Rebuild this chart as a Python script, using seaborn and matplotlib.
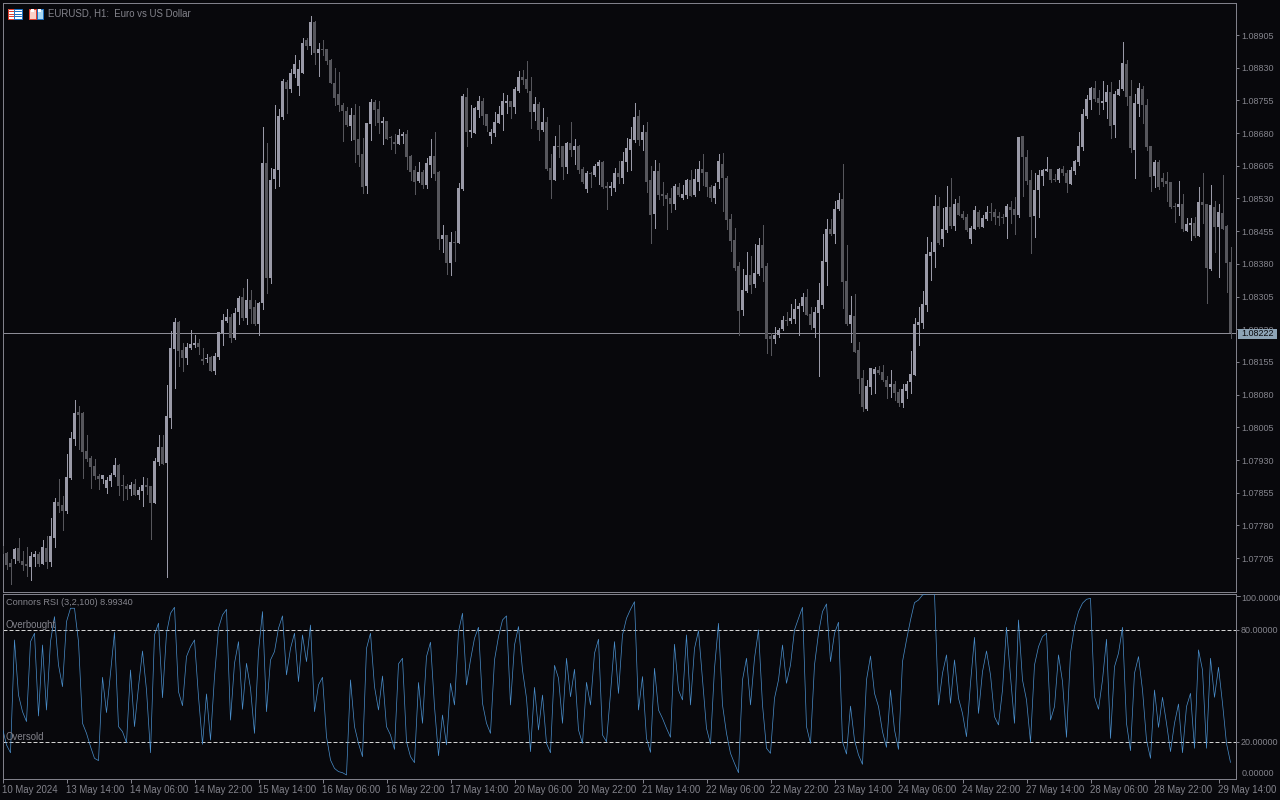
import numpy as np
import pandas as pd
import matplotlib
matplotlib.use("Agg")
import matplotlib.pyplot as plt
from matplotlib.patches import Rectangle
import seaborn as sns

# prices are kept as points above 1.07000
base_price = 1.07
rising = ("DDDLDDDLLD" "LDLLDDLLLD" "DDDDDLLLLD" "DDLDLLDDLL" "DLLLDDLLLD" "DLDLLLLDLL" "DLDDLLDLLL" "LDLLLLDLDL"
          "DDDDDDDLDD" "DLLDDLDDDL" "LDDDLDLLDD" "LDLDLLDLLL" "DDLLLLLDLL" "DDDLDLDDLD" "DLDLDDLDLL" "DDLLDLLLLD"
          "LDDLDDDDLD" "LLDLLDDDLL" "DDDDDLLDLL" "DDDLLLDLLL" "LDDLLLLDLL" "DDLDDDLLLD" "DDLDDLLLLL" "LLLLDLLDLD"
          "DDLLDLLDDD" "DLDDLDDDLL" "LLDDLDDLLL" "LLLDDLLDLL" "LDDLLDDDLD" "DDDDLDLLDL" "DDLDLDDD")

body_hi = [733,717,694,727,728,698,691,710,714,714,
730,728,756,834,834,827,891,980,1038,1040,
1038,951,935,916,893,896,884,896,918,918,
873,870,873,875,861,873,873,870,928,960,
960,1031,1187,1247,1247,1182,1189,1196,1198,1198,
1162,1164,1167,1169,1224,1251,1258,1258,1267,1301,
1304,1297,1297,1281,1290,1611,1611,1572,1597,1719,
1799,1797,1818,1838,1827,1886,1893,1935,1935,1873,
1873,1873,1847,1795,1769,1744,1730,1721,1721,1666,
1632,1703,1751,1751,1735,1707,1707,1671,1659,1675,
1678,1678,1627,1595,1590,1590,1611,1627,1627,1590,
1446,1446,1430,1430,1554,1765,1763,1687,1738,1754,
1754,1724,1683,1706,1724,1754,1754,1754,1782,1809,
1809,1804,1777,1747,1747,1706,1706,1600,1651,1651,
1651,1658,1658,1651,1651,1598,1589,1589,1605,1614,
1614,1559,1559,1589,1589,1616,1646,1667,1717,1720,
1683,1683,1573,1593,1593,1541,1538,1531,1559,1557,
1541,1573,1573,1575,1598,1598,1591,1557,1559,1616,
1609,1577,1483,1435,1375,1320,1354,1354,1359,1423,
1423,1375,1214,1217,1228,1251,1251,1256,1276,1283,
1304,1304,1265,1269,1297,1386,1460,1460,1506,1526,
1529,1340,1262,1260,1182,1118,1100,1141,1139,1136,
1132,1113,1104,1104,1086,1093,1104,1127,1242,1246,
1288,1402,1407,1513,1513,1460,1510,1510,1517,1519,
1494,1487,1462,1503,1499,1485,1499,1499,1499,1490,
1487,1513,1510,1506,1671,1673,1625,1572,1549,1584,
1595,1598,1598,1575,1598,1598,1588,1595,1616,1650,
1724,1758,1783,1783,1761,1754,1774,1774,1770,1781,
1841,1838,1765,1749,1783,1781,1744,1650,1614,1614,
1577,1570,1568,1513,1517,1517,1471,1474,1474,1522,
1522,1517,1515,1510,1499,1497,1467,1384]

body_lo = [714,689,684,702,699,689,687,685,707,691,
691,696,696,751,824,813,813,889,978,1033,
948,932,914,893,886,886,866,882,896,870,
870,863,863,850,850,859,868,831,831,925,
921,923,1026,1185,1180,1164,1164,1187,1194,1189,
1157,1162,1134,1134,1166,1221,1249,1210,1210,1269,
1255,1255,1276,1242,1242,1290,1347,1347,1574,1595,
1717,1781,1781,1815,1788,1818,1879,1879,1863,1863,
1870,1845,1795,1760,1744,1730,1698,1696,1664,1629,
1556,1558,1700,1733,1703,1703,1666,1668,1655,1655,
1673,1625,1590,1567,1570,1561,1561,1606,1586,1437,
1437,1382,1382,1428,1428,1551,1683,1683,1681,1733,
1720,1697,1674,1681,1704,1722,1749,1740,1740,1776,
1802,1782,1729,1729,1687,1687,1598,1573,1573,1648,
1603,1603,1642,1642,1596,1568,1552,1587,1584,1605,
1557,1554,1554,1554,1580,1577,1614,1642,1664,1664,
1664,1568,1492,1495,1538,1536,1529,1518,1518,1538,
1531,1538,1536,1538,1568,1589,1557,1531,1531,1568,
1577,1481,1433,1370,1272,1274,1318,1331,1334,1357,
1370,1207,1207,1207,1217,1230,1249,1249,1253,1276,
1283,1262,1240,1233,1267,1285,1384,1448,1448,1506,
1338,1242,1242,1178,1116,1051,1046,1097,1127,1129,
1113,1097,1097,1084,1061,1061,1088,1109,1125,1240,
1244,1285,1398,1407,1428,1437,1457,1467,1467,1492,
1485,1457,1437,1460,1464,1464,1483,1497,1487,1485,
1485,1487,1504,1492,1492,1625,1570,1487,1490,1549,
1581,1593,1572,1572,1572,1588,1565,1563,1593,1614,
1648,1719,1756,1758,1749,1749,1751,1696,1699,1767,
1781,1763,1646,1641,1747,1744,1648,1579,1581,1556,
1568,1563,1510,1510,1510,1460,1455,1469,1444,1444,
1515,1370,1368,1464,1464,1460,1382,1221]

wick_hi = [733,720,702,729,751,721,730,720,721,719,
746,756,797,843,886,847,944,994,1068,1054,
1040,987,939,932,898,896,892,900,935,921,
896,875,879,886,868,891,889,870,935,987,
987,1102,1226,1256,1249,1198,1198,1228,1217,1208,
1187,1173,1169,1175,1224,1265,1276,1265,1279,1306,
1324,1345,1320,1297,1292,1694,1657,1600,1744,1735,
1804,1801,1827,1859,1847,1898,1898,1948,1937,1886,
1893,1873,1850,1829,1820,1749,1740,1737,1746,1742,
1668,1703,1758,1756,1753,1717,1707,1673,1678,1689,
1682,1687,1629,1604,1613,1595,1622,1666,1682,1593,
1469,1446,1453,1455,1565,1769,1784,1745,1740,1765,
1761,1724,1690,1729,1742,1772,1768,1754,1786,1823,
1825,1846,1809,1763,1752,1738,1717,1632,1674,1699,
1651,1660,1706,1667,1653,1603,1593,1591,1609,1619,
1616,1568,1568,1600,1616,1637,1669,1694,1749,1733,
1699,1706,1605,1619,1612,1568,1543,1554,1564,1566,
1561,1575,1596,1598,1616,1632,1591,1561,1566,1632,
1635,1582,1495,1462,1384,1368,1407,1398,1425,1439,
1469,1382,1221,1235,1233,1260,1269,1288,1299,1290,
1313,1322,1281,1281,1336,1448,1483,1483,1524,1542,
1609,1423,1306,1311,1201,1136,1113,1141,1143,1145,
1148,1122,1136,1111,1093,1104,1111,1180,1256,1281,
1318,1441,1430,1538,1533,1508,1558,1577,1529,1535,
1501,1494,1467,1513,1503,1492,1513,1520,1506,1499,
1494,1517,1524,1533,1671,1673,1641,1595,1588,1595,
1598,1625,1598,1586,1600,1604,1595,1602,1618,1682,
1735,1767,1786,1799,1779,1799,1790,1797,1777,1802,
1889,1848,1802,1770,1795,1788,1758,1650,1618,1618,
1588,1591,1568,1520,1570,1540,1485,1485,1487,1556,
1588,1517,1561,1524,1517,1584,1469,1419]

wick_lo = [714,681,645,693,696,678,664,655,687,687,
691,682,687,730,811,769,808,886,964,955,
889,928,866,886,863,877,854,870,893,850,
838,840,850,850,840,824,852,749,831,918,
921,662,1003,1095,1146,1134,1150,1185,1189,1173,
1150,1155,1134,1127,1162,1194,1247,1201,1208,1242,
1251,1242,1244,1239,1216,1276,1313,1336,1554,1558,
1712,1726,1774,1808,1767,1818,1873,1861,1838,1811,
1859,1838,1795,1744,1730,1662,1696,1664,1613,1604,
1542,1542,1664,1698,1680,1655,1666,1643,1634,1655,
1657,1597,1572,1540,1567,1554,1554,1579,1572,1414,
1407,1356,1354,1386,1428,1549,1651,1671,1681,1717,
1701,1685,1658,1674,1704,1687,1726,1715,1726,1775,
1793,1775,1692,1710,1665,1685,1596,1531,1573,1626,
1575,1589,1628,1609,1589,1566,1545,1557,1582,1564,
1554,1506,1538,1548,1566,1566,1593,1596,1660,1653,
1642,1545,1428,1463,1529,1515,1460,1499,1506,1536,
1529,1531,1536,1536,1550,1561,1536,1525,1520,1554,
1502,1460,1410,1366,1217,1262,1315,1313,1327,1354,
1340,1175,1171,1198,1212,1228,1240,1244,1244,1217,
1272,1262,1230,1212,1122,1279,1331,1446,1428,1503,
1279,1240,1201,1178,1084,1042,1045,1081,1084,1127,
1111,1072,1074,1067,1054,1051,1072,1084,1125,1194,
1233,1272,1343,1373,1425,1421,1453,1462,1457,1492,
1483,1455,1428,1460,1462,1464,1481,1481,1471,1469,
1474,1439,1474,1448,1487,1536,1563,1405,1442,1487,
1561,1593,1568,1570,1568,1584,1545,1563,1586,1607,
1641,1715,1735,1754,1724,1735,1715,1669,1671,1767,
1779,1744,1637,1577,1719,1703,1641,1547,1556,1552,
1559,1524,1508,1476,1492,1455,1455,1435,1442,1444,
1474,1290,1366,1407,1350,1460,1315,1210]

rsi = [27.3,18.4,14.2,74.6,45.1,36.2,30.9,73.7,78.2,33.9,
71.9,37.1,73.7,87.1,61.2,49.6,84.4,91.6,91.6,73.7,
30.0,24.6,17.5,11.2,10.0,54.6,35.7,56.8,78.7,28.2,
25.5,19.6,58.5,28.2,49.6,68.7,47.8,14.2,77.3,83.6,
43.7,78.2,88.9,92.1,46.9,39.4,65.7,71.0,74.6,44.2,
18.7,45.7,21.0,55.0,80.9,88.0,91.0,31.7,62.1,73.7,
37.5,62.1,48.7,24.6,68.4,89.8,36.2,63.9,68.4,80.9,
87.5,55.9,70.1,78.2,52.3,77.3,63.0,82.6,36.2,50.5,
54.6,22.8,10.3,5.8,4.1,3.5,2.3,53.2,28.2,19.2,
12.1,70.1,78.2,49.6,37.1,55.3,28.2,23.7,16.0,61.8,
64.8,20.1,12.1,8.9,51.8,30.0,65.7,73.4,38.9,12.6,
34.4,18.4,51.4,39.8,79.1,88.9,50.5,63.9,75.5,81.4,
40.7,30.0,24.6,63.9,76.4,85.3,87.5,39.8,71.9,81.8,
58.5,43.4,14.8,49.2,26.4,45.1,19.2,14.2,61.0,54.1,
30.0,64.8,44.2,58.9,26.4,19.2,51.9,39.8,67.5,75.0,
23.7,20.1,46.0,73.7,46.0,77.3,86.2,91.0,95.1,37.1,
55.0,21.9,14.4,59.4,37.1,32.6,27.3,22.5,72.3,47.8,
42.5,77.3,39.8,70.1,79.6,53.2,27.3,18.9,59.4,83.5,
39.8,24.6,13.9,8.5,3.5,53.2,64.8,39.8,64.8,80.0,
39.8,16.6,13.9,43.4,53.2,71.9,51.4,61.2,80.0,86.2,
92.1,28.2,19.2,61.2,78.2,89.8,93.9,63.0,78.2,84.1,
20.1,13.5,39.2,21.0,13.0,8.0,53.2,66.0,46.0,38.9,
25.5,17.1,47.8,26.4,16.0,63.0,74.6,85.3,94.6,96.0,
98.7,99.3,99.3,99.3,39.8,56.8,66.6,40.7,63.9,43.4,
35.3,22.8,51.4,76.0,35.3,57.6,68.7,55.9,33.5,29.1,
47.8,81.4,55.0,30.0,85.3,53.2,42.5,19.8,61.2,71.0,
76.4,78.2,31.7,38.9,66.6,52.3,22.5,67.5,81.8,89.8,
94.3,96.4,96.9,44.2,37.5,53.2,75.0,21.9,60.3,67.5,
81.4,30.0,15.3,56.8,65.7,47.8,21.0,11.2,47.8,27.8,
43.9,30.0,14.8,30.0,40.3,14.2,38.9,46.0,16.6,69.3,
58.5,16.6,64.8,43.9,60.0,40.7,19.2,8.99]

time_labels = ["10 May 2024", "13 May 14:00", "14 May 06:00", "14 May 22:00", "15 May 14:00",
               "16 May 06:00", "16 May 22:00", "17 May 14:00", "20 May 06:00", "20 May 22:00",
               "21 May 14:00", "22 May 06:00", "22 May 22:00", "23 May 14:00", "24 May 06:00",
               "24 May 22:00", "27 May 14:00", "28 May 06:00", "28 May 22:00", "29 May 14:00"]
price_ticks = [1.07705, 1.07780, 1.07855, 1.07930, 1.08005, 1.08080, 1.08155, 1.08230, 1.08305,
               1.08380, 1.08455, 1.08530, 1.08605, 1.08680, 1.08755, 1.08830, 1.08905]
last_price = 1.08222

bg = "#08080c"
border = "#80808a"
text_col = "#84848c"
up_col = "#9a9aa8"
down_col = "#56565c"
px = 0.72
small = 6.5
label = 6.9

sns.set_theme(style="dark", rc={"axes.facecolor": bg, "figure.facecolor": bg, "savefig.facecolor": bg,
                                "axes.edgecolor": border, "axes.linewidth": px})
plt.rcParams["font.family"] = ["Liberation Sans", "DejaVu Sans"]

df = pd.DataFrame({"body_hi": body_hi, "body_lo": body_lo, "wick_hi": wick_hi, "wick_lo": wick_lo,
                   "rsi": rsi, "up": [c == "L" for c in rising]})
df["bar"] = np.arange(len(df))
for col in ["body_hi", "body_lo", "wick_hi", "wick_lo"]:
    df[col] = base_price + df[col] * 1e-5

fig = plt.figure(figsize=(12.8, 8.0), dpi=100)
W, H = 1280.0, 800.0
left, right = 2.5 / W, 1235.5 / W
ax = fig.add_axes([left, 1 - 591.5 / H, right - left, (591.5 - 2.5) / H])
ax2 = fig.add_axes([left, 1 - 778.5 / H, right - left, (778.5 - 593.5) / H])

# candles, dark ones first
ax.axhline(last_price, color="#8c8c96", lw=px, zorder=1)
for up, col in [(False, down_col), (True, up_col)]:
    part = df[df["up"] == up]
    ax.vlines(part["bar"], part["wick_lo"], part["wick_hi"], color=col, lw=px, antialiased=False, zorder=2)
    ax.bar(part["bar"], part["body_hi"] - part["body_lo"], bottom=part["body_lo"], width=0.74,
           color=col, linewidth=0, antialiased=False, zorder=3)
ax.set_xlim(0, 308.25)
ax.set_ylim(1.07 + 628.4e-5, 1.07 + 1979.6e-5)
ax.set_xticks([])
ax.yaxis.tick_right()
ax.set_yticks(price_ticks)
ax.set_yticklabels(["%.5f" % p for p in price_ticks])
ax.tick_params(axis="y", right=True, left=False, length=2.5, width=px, color=border, labelcolor=text_col,
               labelsize=small, pad=1.5)

# indicator pane, thin line: aliased agg draws wide lines two pixels thick
sns.lineplot(data=df, x="bar", y="rsi", ax=ax2, color="#4a8fcc", linewidth=0.5, errorbar=None, antialiased=True, zorder=3)
for level in [80, 20]:
    ax2.axhline(level, color="#d2d2d2", lw=px, ls=(0, (4, 2)), zorder=2)
ax2.set_xlim(0, 308.25)
ax2.set_ylim(0.4, 99.5)
ax2.set_xlabel("")
ax2.set_ylabel("")
ax2.yaxis.tick_right()
ax2.set_yticks([80, 20])
ax2.set_yticklabels(["80.00000", "20.00000"])
ax2.set_xticks(df["bar"].values[::16])
ax2.set_xticklabels(time_labels, ha="left")
ax2.tick_params(axis="y", right=True, left=False, length=2.5, width=px, color=border, labelcolor=text_col,
                labelsize=small, pad=1.5)
ax2.tick_params(axis="x", bottom=True, length=3, width=px, color=border, labelcolor=text_col, labelsize=label, pad=1.5)

# overlay in pixel coordinates for the captions
ov = fig.add_axes([0, 0, 1, 1], facecolor="none")
ov.set_xlim(0, W)
ov.set_ylim(H, 0)
ov.axis("off")
ov.text(48, 13.5, "EURUSD, H1:  Euro vs US Dollar", color=text_col, fontsize=label, va="center")
ov.text(6, 602.5, "Connors RSI (3,2,100) 8.99340", color=text_col, fontsize=6.6, va="center")
ov.text(6, 624.5, "Overbought", color=text_col, fontsize=label, va="center")
ov.text(6, 736.5, "Oversold", color=text_col, fontsize=label, va="center")
ov.plot([1236, 1239.5], [595.5, 595.5], color=border, lw=px)
ov.text(1241, 598.5, "100.00000", color=text_col, fontsize=small, va="center")
ov.text(1241.5, 773.5, "0.00000", color=text_col, fontsize=small, va="center")
ov.add_patch(Rectangle((1238, 328.5), 39, 10.5, facecolor="#8da3b5", edgecolor="none", zorder=5))
ov.text(1241.5, 334, "%.5f" % last_price, color=bg, fontsize=small, va="center", zorder=6)

# the two little toolbar icons
ov.add_patch(Rectangle((7.5, 8.5), 14, 10, facecolor="white", edgecolor="none"))
ov.add_patch(Rectangle((7.5, 8.5), 6, 10, facecolor="none", edgecolor="#e04030", lw=px))
ov.add_patch(Rectangle((13.5, 8.5), 8, 10, facecolor="none", edgecolor="#2070c0", lw=px))
for yy in [11, 13.5, 16]:
    ov.plot([8.5, 13.5], [yy, yy], color="#e04030", lw=px)
    ov.plot([13.5, 21], [yy, yy], color="#2070c0", lw=px)
ov.add_patch(Rectangle((28.5, 8.5), 7, 10, facecolor="#fbd0c8", edgecolor="#e04030", lw=px))
ov.add_patch(Rectangle((36.5, 8.5), 6.5, 10, facecolor="#a8d8f4", edgecolor="#2070c0", lw=px))
ov.add_patch(Rectangle((31, 8.5), 3, 3, facecolor="white", edgecolor="none"))
ov.add_patch(Rectangle((37.5, 8.5), 3, 3, facecolor="white", edgecolor="none"))

fig.savefig("out.png", dpi=100, facecolor=bg)
